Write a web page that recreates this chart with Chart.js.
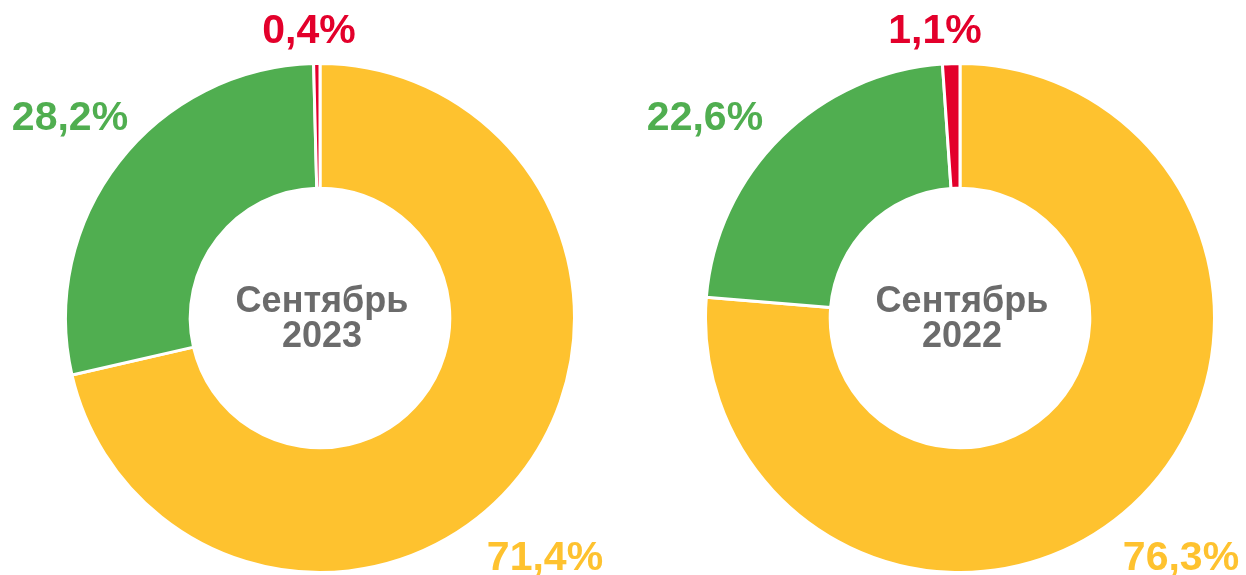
<!DOCTYPE html>
<html>
<head>
<meta charset="utf-8">
<script src="https://cdn.jsdelivr.net/npm/chart.js@4"></script>
<style>
html,body{margin:0;padding:0;background:#fff;}
#wrap{position:relative;width:1246px;height:575px;overflow:hidden;}
canvas{position:absolute;top:0;}
</style>
</head>
<body>
<div id="wrap">
<canvas id="c1" style="left:0px" width="640" height="575"></canvas>
<canvas id="c2" style="left:640px" width="606" height="575"></canvas>
</div>
<script>
const categories = ['Жёлтый', 'Зелёный', 'Красный'];
const values2023 = [71.4, 28.2, 0.4];
const values2022 = [76.3, 22.6, 1.1];
const valueLabels2023 = ['71,4%', '28,2%', '0,4%'];
const valueLabels2022 = ['76,3%', '22,6%', '1,1%'];
const centerLines2023 = ['Сентябрь', '2023'];
const centerLines2022 = ['Сентябрь', '2022'];
const colors = ['#FEC22F', '#50AE50', '#E3002B'];

const FONT = '"Liberation Sans", Arial, sans-serif';

function makeLabelPlugin(labels, offsets, centerLines) {
  return {
    id: 'labels',
    afterDraw(chart) {
      const ctx = chart.ctx;
      const arc = chart.getDatasetMeta(0).data[0];
      const cx = arc.x, cy = arc.y;
      ctx.save();
      ctx.textAlign = 'center';
      ctx.textBaseline = 'alphabetic';
      ctx.font = 'bold 41px ' + FONT;
      labels.forEach((t, i) => {
        ctx.fillStyle = colors[i];
        ctx.fillText(t, cx + offsets[i][0], cy + offsets[i][1]);
      });
      ctx.fillStyle = '#6B6B6B';
      ctx.font = 'bold 36px ' + FONT;
      ctx.fillText(centerLines[0], cx + 2, cy - 6);
      ctx.fillText(centerLines[1], cx + 2, cy + 29);
      ctx.restore();
    }
  };
}

function makeChart(id, values, labels, offsets, centerLines, pad) {
  return new Chart(document.getElementById(id), {
    type: 'doughnut',
    data: {
      labels: categories,
      datasets: [{
        data: values,
        backgroundColor: colors,
        borderColor: '#ffffff',
        borderWidth: 3,
        hoverOffset: 0
      }]
    },
    options: {
      responsive: false,
      animation: false,
      cutout: '51%',
      layout: { padding: pad },
      plugins: { legend: { display: false }, tooltip: { enabled: false } }
    },
    plugins: [makeLabelPlugin(labels, offsets, centerLines)]
  });
}

makeChart('c1', values2023, valueLabels2023,
  [[225, 252], [-250, -188], [-11, -275]], centerLines2023,
  { top: 62, bottom: 1, left: 64, right: 64 });
makeChart('c2', values2022, valueLabels2022,
  [[221, 252], [-255, -188], [-25, -275]], centerLines2022,
  { top: 62, bottom: 1, left: 64, right: 30 });
</script>
</body>
</html>
